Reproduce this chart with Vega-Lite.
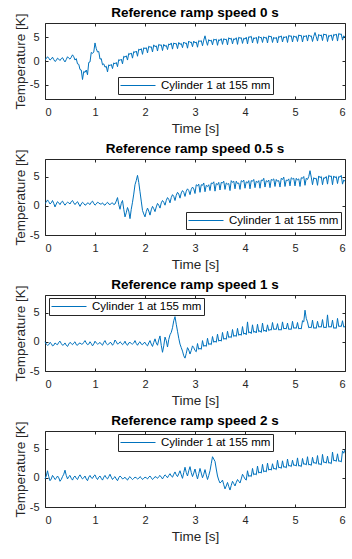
{
"$schema": "https://vega.github.io/schema/vega-lite/v6.json",
"background": "white",
"padding": {"left": 12, "top": 5, "right": 2, "bottom": 1},
"spacing": 6,
"resolve": {"scale": {"color": "independent"}, "legend": {"color": "independent"}},
"datasets": {
"s0": [
{"t":0.00,"v":0.3},{"t":0.05,"v":0.9},{"t":0.10,"v":0.2},{"t":0.15,"v":0.8},{"t":0.20,"v":-0.1},{"t":0.25,"v":0.6},{"t":0.30,"v":0.1},{"t":0.35,"v":0.7},{"t":0.40,"v":-0.2},{"t":0.45,"v":0.9},
{"t":0.50,"v":0.4},{"t":0.55,"v":1.3},{"t":0.60,"v":0.2},{"t":0.65,"v":-0.6},{"t":0.70,"v":-1.8},{"t":0.75,"v":-3.9},{"t":0.80,"v":-2.4},{"t":0.85,"v":-2.9},{"t":0.90,"v":-0.2},{"t":0.95,"v":1.6},
{"t":1.00,"v":3.8},{"t":1.05,"v":1.9},{"t":1.10,"v":0.4},{"t":1.15,"v":-0.8},{"t":1.20,"v":-1.3},{"t":1.25,"v":-2.3},{"t":1.30,"v":-1.0},{"t":1.35,"v":-1.6},{"t":1.40,"v":-0.6},{"t":1.45,"v":-1.2},
{"t":1.50,"v":0.1},{"t":1.55,"v":-0.6},{"t":1.60,"v":0.8},{"t":1.65,"v":0.2},{"t":1.70,"v":1.4},{"t":1.75,"v":0.6},{"t":1.80,"v":1.8},{"t":1.85,"v":1.0},{"t":1.90,"v":2.3},{"t":1.95,"v":1.4},
{"t":2.00,"v":2.6},{"t":2.05,"v":1.7},{"t":2.10,"v":2.9},{"t":2.15,"v":1.9},{"t":2.20,"v":3.0},{"t":2.25,"v":2.1},{"t":2.30,"v":3.3},{"t":2.35,"v":2.2},{"t":2.40,"v":3.1},{"t":2.45,"v":2.4},
{"t":2.50,"v":3.4},{"t":2.55,"v":2.5},{"t":2.60,"v":3.6},{"t":2.65,"v":2.6},{"t":2.70,"v":3.5},{"t":2.75,"v":2.8},{"t":2.80,"v":3.7},{"t":2.85,"v":2.7},{"t":2.90,"v":3.9},{"t":2.95,"v":3.0},
{"t":3.00,"v":3.8},{"t":3.05,"v":2.9},{"t":3.10,"v":4.1},{"t":3.15,"v":3.2},{"t":3.20,"v":5.3},{"t":3.25,"v":3.3},{"t":3.30,"v":4.2},{"t":3.35,"v":3.4},{"t":3.40,"v":4.4},{"t":3.45,"v":3.3},
{"t":3.50,"v":4.3},{"t":3.55,"v":3.5},{"t":3.60,"v":4.5},{"t":3.65,"v":3.4},{"t":3.70,"v":4.6},{"t":3.75,"v":3.6},{"t":3.80,"v":4.5},{"t":3.85,"v":3.5},{"t":3.90,"v":4.8},{"t":3.95,"v":3.7},
{"t":4.00,"v":4.6},{"t":4.05,"v":3.6},{"t":4.10,"v":5.0},{"t":4.15,"v":3.8},{"t":4.20,"v":4.7},{"t":4.25,"v":3.7},{"t":4.30,"v":4.9},{"t":4.35,"v":3.9},{"t":4.40,"v":4.8},{"t":4.45,"v":3.8},
{"t":4.50,"v":5.1},{"t":4.55,"v":3.9},{"t":4.60,"v":4.7},{"t":4.65,"v":3.8},{"t":4.70,"v":5.0},{"t":4.75,"v":4.0},{"t":4.80,"v":4.9},{"t":4.85,"v":3.9},{"t":4.90,"v":5.2},{"t":4.95,"v":4.0},
{"t":5.00,"v":5.0},{"t":5.05,"v":4.1},{"t":5.10,"v":5.3},{"t":5.15,"v":4.0},{"t":5.20,"v":5.1},{"t":5.25,"v":4.2},{"t":5.30,"v":5.2},{"t":5.35,"v":4.1},{"t":5.40,"v":6.0},{"t":5.45,"v":4.2},
{"t":5.50,"v":5.3},{"t":5.55,"v":4.3},{"t":5.60,"v":5.5},{"t":5.65,"v":4.1},{"t":5.70,"v":5.2},{"t":5.75,"v":4.3},{"t":5.80,"v":5.4},{"t":5.85,"v":4.2},{"t":5.90,"v":5.6},{"t":5.95,"v":4.4},{"t":6.00,"v":5.0},
{"t":0.025,"v":0.5},{"t":0.075,"v":0.6},{"t":0.125,"v":0.4},{"t":0.175,"v":0.3},{"t":0.225,"v":0.1},{"t":0.275,"v":0.4},{"t":0.325,"v":0.5},{"t":0.375,"v":0.2},{"t":0.425,"v":0.3},{"t":0.475,"v":0.6},
{"t":0.525,"v":0.8},{"t":0.575,"v":0.9},{"t":0.625,"v":0.5},{"t":0.675,"v":-0.7},{"t":0.725,"v":-1.9},{"t":0.775,"v":-2.2},{"t":0.825,"v":-1.9},{"t":0.875,"v":-0.3},{"t":0.925,"v":1.8},{"t":0.975,"v":1.9},
{"t":1.025,"v":2.6},{"t":1.075,"v":2.0},{"t":1.125,"v":0.5},{"t":1.175,"v":-0.6},{"t":1.225,"v":-1.1},{"t":1.275,"v":-0.8},{"t":1.325,"v":-0.7},{"t":1.375,"v":-0.4},{"t":1.425,"v":-0.3},{"t":1.475,"v":0.3},
{"t":1.525,"v":0.4},{"t":1.575,"v":1.0},{"t":1.625,"v":1.1},{"t":1.675,"v":1.6},{"t":1.725,"v":1.7},{"t":1.775,"v":2.0},{"t":1.825,"v":2.1},{"t":1.875,"v":2.5},{"t":1.925,"v":2.6},{"t":1.975,"v":2.8},
{"t":2.025,"v":2.8},{"t":2.075,"v":3.1},{"t":2.125,"v":3.0},{"t":2.175,"v":3.4},{"t":2.225,"v":3.2},{"t":2.275,"v":3.5},{"t":2.325,"v":3.4},{"t":2.375,"v":3.5},{"t":2.425,"v":3.3},{"t":2.475,"v":3.6},
{"t":2.525,"v":3.8},{"t":2.575,"v":3.8},{"t":2.625,"v":3.7},{"t":2.675,"v":3.9},{"t":2.725,"v":3.7},{"t":2.775,"v":4.0},{"t":2.825,"v":3.8},{"t":2.875,"v":4.2},{"t":2.925,"v":4.0},{"t":2.975,"v":4.2},
{"t":3.025,"v":4.0},{"t":3.075,"v":4.3},{"t":3.125,"v":4.3},{"t":3.175,"v":4.4},{"t":3.225,"v":4.2},{"t":3.275,"v":4.5},{"t":3.325,"v":4.4},{"t":3.375,"v":4.6},{"t":3.425,"v":4.6},{"t":3.475,"v":4.5},
{"t":3.525,"v":4.7},{"t":3.575,"v":4.7},{"t":3.625,"v":4.6},{"t":3.675,"v":4.9},{"t":3.725,"v":4.8},{"t":3.775,"v":4.7},{"t":3.825,"v":4.9},{"t":3.875,"v":5.0},{"t":3.925,"v":4.9},{"t":3.975,"v":4.8},
{"t":4.025,"v":5.0},{"t":4.075,"v":5.1},{"t":4.125,"v":5.2},{"t":4.175,"v":4.9},{"t":4.225,"v":5.0},{"t":4.275,"v":5.2},{"t":4.325,"v":5.0},{"t":4.375,"v":5.1},{"t":4.425,"v":5.0},{"t":4.475,"v":5.3},
{"t":4.525,"v":5.2},{"t":4.575,"v":5.0},{"t":4.625,"v":5.0},{"t":4.675,"v":5.2},{"t":4.725,"v":5.3},{"t":4.775,"v":5.1},{"t":4.825,"v":5.2},{"t":4.875,"v":5.4},{"t":4.925,"v":5.3},{"t":4.975,"v":5.3},
{"t":5.025,"v":5.2},{"t":5.075,"v":5.5},{"t":5.125,"v":5.4},{"t":5.175,"v":5.3},{"t":5.225,"v":5.4},{"t":5.275,"v":5.5},{"t":5.325,"v":5.3},{"t":5.375,"v":5.2},{"t":5.425,"v":5.1},{"t":5.475,"v":5.6},
{"t":5.525,"v":5.5},{"t":5.575,"v":5.7},{"t":5.625,"v":5.6},{"t":5.675,"v":5.4},{"t":5.725,"v":5.5},{"t":5.775,"v":5.6},{"t":5.825,"v":5.7},{"t":5.875,"v":5.8},{"t":5.925,"v":5.7},{"t":5.975,"v":5.3}
],
"s05": [
{"t":0.00,"v":0.4},{"t":0.05,"v":1.0},{"t":0.10,"v":0.3},{"t":0.15,"v":0.9},{"t":0.20,"v":-0.2},{"t":0.25,"v":0.7},{"t":0.30,"v":0.2},{"t":0.35,"v":0.8},{"t":0.40,"v":0.1},{"t":0.45,"v":0.6},
{"t":0.50,"v":0.3},{"t":0.55,"v":0.9},{"t":0.60,"v":0.2},{"t":0.65,"v":0.7},{"t":0.70,"v":-0.1},{"t":0.75,"v":0.6},{"t":0.80,"v":0.1},{"t":0.85,"v":0.5},{"t":0.90,"v":0.2},{"t":0.95,"v":0.8},
{"t":1.00,"v":0.1},{"t":1.05,"v":0.6},{"t":1.10,"v":0.3},{"t":1.15,"v":0.5},{"t":1.20,"v":0.1},{"t":1.25,"v":0.6},{"t":1.30,"v":0.2},{"t":1.35,"v":0.5},{"t":1.40,"v":0.3},{"t":1.45,"v":1.4},
{"t":1.50,"v":-0.6},{"t":1.55,"v":0.9},{"t":1.60,"v":-1.9},{"t":1.65,"v":-0.3},{"t":1.70,"v":-2.2},{"t":1.75,"v":0.6},{"t":1.80,"v":3.6},{"t":1.85,"v":5.2},{"t":1.90,"v":2.4},{"t":1.95,"v":-0.8},
{"t":2.00,"v":-1.9},{"t":2.05,"v":-0.4},{"t":2.10,"v":-1.6},{"t":2.15,"v":-0.1},{"t":2.20,"v":-1.0},{"t":2.25,"v":0.4},{"t":2.30,"v":-0.4},{"t":2.35,"v":0.9},{"t":2.40,"v":0.1},{"t":2.45,"v":1.4},
{"t":2.50,"v":0.5},{"t":2.55,"v":1.9},{"t":2.60,"v":0.9},{"t":2.65,"v":2.3},{"t":2.70,"v":1.3},{"t":2.75,"v":2.6},{"t":2.80,"v":1.6},{"t":2.85,"v":2.9},{"t":2.90,"v":1.9},{"t":2.95,"v":3.2},
{"t":3.00,"v":2.1},{"t":3.05,"v":3.4},{"t":3.10,"v":2.3},{"t":3.15,"v":3.5},{"t":3.20,"v":2.4},{"t":3.25,"v":3.3},{"t":3.30,"v":2.6},{"t":3.35,"v":3.8},{"t":3.40,"v":2.5},{"t":3.45,"v":3.6},
{"t":3.50,"v":2.7},{"t":3.55,"v":3.9},{"t":3.60,"v":2.8},{"t":3.65,"v":3.7},{"t":3.70,"v":2.6},{"t":3.75,"v":4.0},{"t":3.80,"v":2.9},{"t":3.85,"v":3.8},{"t":3.90,"v":2.8},{"t":3.95,"v":4.1},
{"t":4.00,"v":3.0},{"t":4.05,"v":3.9},{"t":4.10,"v":2.9},{"t":4.15,"v":4.2},{"t":4.20,"v":3.1},{"t":4.25,"v":4.0},{"t":4.30,"v":3.0},{"t":4.35,"v":4.3},{"t":4.40,"v":3.2},{"t":4.45,"v":4.1},
{"t":4.50,"v":3.1},{"t":4.55,"v":4.4},{"t":4.60,"v":3.3},{"t":4.65,"v":4.2},{"t":4.70,"v":3.2},{"t":4.75,"v":4.5},{"t":4.80,"v":3.3},{"t":4.85,"v":4.3},{"t":4.90,"v":3.4},{"t":4.95,"v":4.6},
{"t":5.00,"v":3.4},{"t":5.05,"v":4.4},{"t":5.10,"v":3.3},{"t":5.15,"v":4.7},{"t":5.20,"v":3.5},{"t":5.25,"v":4.5},{"t":5.30,"v":6.0},{"t":5.35,"v":3.6},{"t":5.40,"v":4.6},{"t":5.45,"v":3.5},
{"t":5.50,"v":4.8},{"t":5.55,"v":3.6},{"t":5.60,"v":4.7},{"t":5.65,"v":3.7},{"t":5.70,"v":5.0},{"t":5.75,"v":3.6},{"t":5.80,"v":4.8},{"t":5.85,"v":3.8},{"t":5.90,"v":4.9},{"t":5.95,"v":3.7},{"t":6.00,"v":4.2},
{"t":0.025,"v":0.6},{"t":0.075,"v":0.7},{"t":0.125,"v":0.5},{"t":0.175,"v":0.4},{"t":0.225,"v":0.3},{"t":0.275,"v":0.5},{"t":0.325,"v":0.6},{"t":0.375,"v":0.4},{"t":0.425,"v":0.4},{"t":0.475,"v":0.5},
{"t":0.525,"v":0.7},{"t":0.575,"v":0.5},{"t":0.625,"v":0.5},{"t":0.675,"v":0.3},{"t":0.725,"v":0.3},{"t":0.775,"v":0.4},{"t":0.825,"v":0.2},{"t":0.875,"v":0.4},{"t":0.925,"v":0.6},{"t":0.975,"v":0.4},
{"t":1.025,"v":0.3},{"t":1.075,"v":0.5},{"t":1.125,"v":0.3},{"t":1.175,"v":0.2},{"t":1.225,"v":0.4},{"t":1.275,"v":0.3},{"t":1.325,"v":0.4},{"t":1.375,"v":0.2},{"t":1.425,"v":0.8},{"t":1.475,"v":0.2},
{"t":1.525,"v":0.4},{"t":1.575,"v":-0.6},{"t":1.625,"v":-1.2},{"t":1.675,"v":-0.9},{"t":1.725,"v":-0.6},{"t":1.775,"v":2.0},{"t":1.825,"v":4.3},{"t":1.875,"v":4.0},{"t":1.925,"v":0.8},{"t":1.975,"v":-1.4},
{"t":2.025,"v":-1.0},{"t":2.075,"v":-0.9},{"t":2.125,"v":-0.7},{"t":2.175,"v":-0.5},{"t":2.225,"v":-0.2},{"t":2.275,"v":0.1},{"t":2.325,"v":0.5},{"t":2.375,"v":0.6},{"t":2.425,"v":0.9},{"t":2.475,"v":1.1},
{"t":2.525,"v":1.4},{"t":2.575,"v":1.6},{"t":2.625,"v":1.8},{"t":2.675,"v":2.0},{"t":2.725,"v":2.2},{"t":2.775,"v":2.3},{"t":2.825,"v":2.5},{"t":2.875,"v":2.6},{"t":2.925,"v":2.8},{"t":2.975,"v":2.9},
{"t":3.025,"v":3.6},{"t":3.075,"v":3.7},{"t":3.125,"v":3.6},{"t":3.175,"v":3.9},{"t":3.225,"v":3.5},{"t":3.275,"v":3.6},{"t":3.325,"v":3.9},{"t":3.375,"v":4.1},{"t":3.425,"v":3.8},{"t":3.475,"v":4.0},
{"t":3.525,"v":4.0},{"t":3.575,"v":4.2},{"t":3.625,"v":3.9},{"t":3.675,"v":3.8},{"t":3.725,"v":4.3},{"t":3.775,"v":4.2},{"t":3.825,"v":4.2},{"t":3.875,"v":3.9},{"t":3.925,"v":4.3},{"t":3.975,"v":4.4},
{"t":4.025,"v":4.1},{"t":4.075,"v":4.3},{"t":4.125,"v":4.3},{"t":4.175,"v":4.5},{"t":4.225,"v":4.2},{"t":4.275,"v":4.3},{"t":4.325,"v":4.4},{"t":4.375,"v":4.7},{"t":4.425,"v":4.3},{"t":4.475,"v":4.4},
{"t":4.525,"v":4.5},{"t":4.575,"v":4.6},{"t":4.625,"v":4.5},{"t":4.675,"v":4.3},{"t":4.725,"v":4.7},{"t":4.775,"v":4.9},{"t":4.825,"v":4.4},{"t":4.875,"v":4.6},{"t":4.925,"v":4.8},{"t":4.975,"v":4.7},
{"t":5.025,"v":4.7},{"t":5.075,"v":4.6},{"t":5.125,"v":4.8},{"t":5.175,"v":5.0},{"t":5.225,"v":4.7},{"t":5.275,"v":5.0},{"t":5.325,"v":4.9},{"t":5.375,"v":4.8},{"t":5.425,"v":4.7},{"t":5.475,"v":5.1},
{"t":5.525,"v":5.0},{"t":5.575,"v":4.8},{"t":5.625,"v":5.0},{"t":5.675,"v":5.2},{"t":5.725,"v":5.1},{"t":5.775,"v":5.1},{"t":5.825,"v":5.0},{"t":5.875,"v":5.0},{"t":5.925,"v":5.2},{"t":5.975,"v":4.4}
],
"s1": [
{"t":0.00,"v":0.0},{"t":0.05,"v":-0.6},{"t":0.10,"v":-0.1},{"t":0.15,"v":-0.7},{"t":0.20,"v":-0.2},{"t":0.25,"v":-0.5},{"t":0.30,"v":0.1},{"t":0.35,"v":-0.6},{"t":0.40,"v":-0.2},{"t":0.45,"v":-0.8},
{"t":0.50,"v":-0.1},{"t":0.55,"v":-0.5},{"t":0.60,"v":0.0},{"t":0.65,"v":-0.6},{"t":0.70,"v":-0.2},{"t":0.75,"v":-0.4},{"t":0.80,"v":0.2},{"t":0.85,"v":-0.5},{"t":0.90,"v":0.0},{"t":0.95,"v":-0.7},
{"t":1.00,"v":0.1},{"t":1.05,"v":-0.4},{"t":1.10,"v":-0.1},{"t":1.15,"v":-0.6},{"t":1.20,"v":0.2},{"t":1.25,"v":-0.5},{"t":1.30,"v":-0.1},{"t":1.35,"v":-0.6},{"t":1.40,"v":0.3},{"t":1.45,"v":-0.4},
{"t":1.50,"v":0.0},{"t":1.55,"v":-0.5},{"t":1.60,"v":0.1},{"t":1.65,"v":-0.6},{"t":1.70,"v":-0.1},{"t":1.75,"v":-0.4},{"t":1.80,"v":0.2},{"t":1.85,"v":-0.6},{"t":1.90,"v":0.0},{"t":1.95,"v":-0.5},
{"t":2.00,"v":-0.1},{"t":2.05,"v":-0.7},{"t":2.10,"v":0.2},{"t":2.15,"v":-0.8},{"t":2.20,"v":0.5},{"t":2.25,"v":-0.6},{"t":2.30,"v":1.0},{"t":2.35,"v":-1.8},{"t":2.40,"v":0.8},{"t":2.45,"v":-0.9},
{"t":2.50,"v":1.2},{"t":2.55,"v":2.4},{"t":2.60,"v":4.3},{"t":2.65,"v":1.8},{"t":2.70,"v":-0.4},{"t":2.75,"v":-1.6},{"t":2.80,"v":-2.8},{"t":2.85,"v":-1.0},{"t":2.90,"v":-2.1},{"t":2.95,"v":-0.7},
{"t":3.00,"v":-1.5},{"t":3.05,"v":-0.3},{"t":3.10,"v":-1.1},{"t":3.15,"v":0.2},{"t":3.20,"v":-0.6},{"t":3.25,"v":0.6},{"t":3.30,"v":-0.3},{"t":3.35,"v":0.9},{"t":3.40,"v":0.1},{"t":3.45,"v":1.3},
{"t":3.50,"v":0.3},{"t":3.55,"v":1.6},{"t":3.60,"v":0.6},{"t":3.65,"v":1.8},{"t":3.70,"v":0.9},{"t":3.75,"v":2.1},{"t":3.80,"v":1.1},{"t":3.85,"v":2.3},{"t":3.90,"v":1.3},{"t":3.95,"v":2.6},
{"t":4.00,"v":1.5},{"t":4.05,"v":3.4},{"t":4.10,"v":1.7},{"t":4.15,"v":2.9},{"t":4.20,"v":1.8},{"t":4.25,"v":3.0},{"t":4.30,"v":1.9},{"t":4.35,"v":3.2},{"t":4.40,"v":2.0},{"t":4.45,"v":2.9},
{"t":4.50,"v":2.1},{"t":4.55,"v":3.3},{"t":4.60,"v":2.2},{"t":4.65,"v":3.1},{"t":4.70,"v":2.1},{"t":4.75,"v":3.4},{"t":4.80,"v":2.3},{"t":4.85,"v":3.2},{"t":4.90,"v":2.2},{"t":4.95,"v":3.5},
{"t":5.00,"v":2.4},{"t":5.05,"v":3.3},{"t":5.10,"v":2.3},{"t":5.15,"v":3.6},{"t":5.20,"v":5.4},{"t":5.25,"v":3.4},{"t":5.30,"v":2.5},{"t":5.35,"v":3.7},{"t":5.40,"v":2.4},{"t":5.45,"v":3.5},
{"t":5.50,"v":2.6},{"t":5.55,"v":3.8},{"t":5.60,"v":2.5},{"t":5.65,"v":4.6},{"t":5.70,"v":2.6},{"t":5.75,"v":3.7},{"t":5.80,"v":2.4},{"t":5.85,"v":4.0},{"t":5.90,"v":2.7},{"t":5.95,"v":3.6},{"t":6.00,"v":2.6},
{"t":0.025,"v":-0.4},{"t":0.075,"v":-0.5},{"t":0.125,"v":-0.3},{"t":0.175,"v":-0.6},{"t":0.225,"v":-0.4},{"t":0.275,"v":-0.1},{"t":0.325,"v":-0.3},{"t":0.375,"v":-0.5},{"t":0.425,"v":-0.6},{"t":0.475,"v":-0.4},
{"t":0.525,"v":-0.3},{"t":0.575,"v":-0.2},{"t":0.625,"v":-0.5},{"t":0.675,"v":-0.3},{"t":0.725,"v":-0.4},{"t":0.775,"v":-0.1},{"t":0.825,"v":-0.2},{"t":0.875,"v":-0.4},{"t":0.925,"v":-0.3},{"t":0.975,"v":-0.4},
{"t":1.025,"v":-0.2},{"t":1.075,"v":-0.3},{"t":1.125,"v":-0.4},{"t":1.175,"v":-0.1},{"t":1.225,"v":-0.3},{"t":1.275,"v":-0.4},{"t":1.325,"v":-0.2},{"t":1.375,"v":-0.3},{"t":1.425,"v":0.0},{"t":1.475,"v":-0.3},
{"t":1.525,"v":-0.2},{"t":1.575,"v":-0.3},{"t":1.625,"v":-0.4},{"t":1.675,"v":-0.2},{"t":1.725,"v":-0.3},{"t":1.775,"v":-0.2},{"t":1.825,"v":-0.3},{"t":1.875,"v":-0.2},{"t":1.925,"v":-0.4},{"t":1.975,"v":-0.2},
{"t":2.025,"v":-0.5},{"t":2.075,"v":-0.2},{"t":2.125,"v":-0.4},{"t":2.175,"v":-0.1},{"t":2.225,"v":-0.2},{"t":2.275,"v":0.3},{"t":2.325,"v":-0.6},{"t":2.375,"v":-0.7},{"t":2.425,"v":0.2},{"t":2.475,"v":0.4},
{"t":2.525,"v":1.6},{"t":2.575,"v":3.6},{"t":2.625,"v":3.0},{"t":2.675,"v":0.6},{"t":2.725,"v":-1.0},{"t":2.775,"v":-2.4},{"t":2.825,"v":-2.0},{"t":2.875,"v":-1.4},{"t":2.925,"v":-1.5},{"t":2.975,"v":-1.0},
{"t":3.025,"v":-1.7},{"t":3.075,"v":-1.3},{"t":3.125,"v":-1.3},{"t":3.175,"v":-0.8},{"t":3.225,"v":-0.8},{"t":3.275,"v":-0.5},{"t":3.325,"v":-0.5},{"t":3.375,"v":-0.1},{"t":3.425,"v":-0.1},{"t":3.475,"v":0.1},
{"t":3.525,"v":0.1},{"t":3.575,"v":0.4},{"t":3.625,"v":0.4},{"t":3.675,"v":0.7},{"t":3.725,"v":0.7},{"t":3.775,"v":0.9},{"t":3.825,"v":0.9},{"t":3.875,"v":1.1},{"t":3.925,"v":1.1},{"t":3.975,"v":1.3},
{"t":4.025,"v":1.2},{"t":4.075,"v":1.5},{"t":4.125,"v":1.4},{"t":4.175,"v":1.6},{"t":4.225,"v":1.5},{"t":4.275,"v":1.7},{"t":4.325,"v":1.6},{"t":4.375,"v":1.8},{"t":4.425,"v":1.7},{"t":4.475,"v":1.9},
{"t":4.525,"v":2.0},{"t":4.575,"v":2.1},{"t":4.625,"v":2.1},{"t":4.675,"v":2.0},{"t":4.725,"v":2.0},{"t":4.775,"v":2.2},{"t":4.825,"v":2.2},{"t":4.875,"v":2.1},{"t":4.925,"v":2.1},{"t":4.975,"v":2.3},
{"t":5.025,"v":2.3},{"t":5.075,"v":2.2},{"t":5.125,"v":2.2},{"t":5.175,"v":3.4},{"t":5.225,"v":4.0},{"t":5.275,"v":2.4},{"t":5.325,"v":2.4},{"t":5.375,"v":2.3},{"t":5.425,"v":2.3},{"t":5.475,"v":2.5},
{"t":5.525,"v":2.5},{"t":5.575,"v":2.4},{"t":5.625,"v":2.4},{"t":5.675,"v":2.5},{"t":5.725,"v":2.5},{"t":5.775,"v":2.3},{"t":5.825,"v":2.3},{"t":5.875,"v":2.6},{"t":5.925,"v":2.6},{"t":5.975,"v":2.5}
],
"s2": [
{"t":0.00,"v":-0.2},{"t":0.05,"v":1.2},{"t":0.10,"v":-0.5},{"t":0.15,"v":0.4},{"t":0.20,"v":-0.3},{"t":0.25,"v":0.3},{"t":0.30,"v":-0.6},{"t":0.35,"v":0.2},{"t":0.40,"v":1.3},{"t":0.45,"v":-0.2},
{"t":0.50,"v":0.4},{"t":0.55,"v":-0.4},{"t":0.60,"v":0.3},{"t":0.65,"v":-0.3},{"t":0.70,"v":0.5},{"t":0.75,"v":-0.2},{"t":0.80,"v":0.3},{"t":0.85,"v":-0.5},{"t":0.90,"v":0.4},{"t":0.95,"v":-0.1},
{"t":1.00,"v":0.5},{"t":1.05,"v":-0.3},{"t":1.10,"v":0.3},{"t":1.15,"v":-0.4},{"t":1.20,"v":0.4},{"t":1.25,"v":-0.2},{"t":1.30,"v":0.6},{"t":1.35,"v":-0.3},{"t":1.40,"v":0.2},{"t":1.45,"v":-0.5},
{"t":1.50,"v":0.3},{"t":1.55,"v":-0.2},{"t":1.60,"v":0.1},{"t":1.65,"v":-0.4},{"t":1.70,"v":0.2},{"t":1.75,"v":-0.3},{"t":1.80,"v":0.1},{"t":1.85,"v":-0.2},{"t":1.90,"v":0.2},{"t":1.95,"v":-0.3},
{"t":2.00,"v":0.1},{"t":2.05,"v":-0.2},{"t":2.10,"v":0.3},{"t":2.15,"v":-0.3},{"t":2.20,"v":0.2},{"t":2.25,"v":-0.1},{"t":2.30,"v":0.4},{"t":2.35,"v":-0.2},{"t":2.40,"v":0.5},{"t":2.45,"v":0.0},
{"t":2.50,"v":0.7},{"t":2.55,"v":0.1},{"t":2.60,"v":1.0},{"t":2.65,"v":0.2},{"t":2.70,"v":1.2},{"t":2.75,"v":-0.1},{"t":2.80,"v":1.8},{"t":2.85,"v":0.3},{"t":2.90,"v":1.9},{"t":2.95,"v":0.2},
{"t":3.00,"v":1.5},{"t":3.05,"v":-0.2},{"t":3.10,"v":1.6},{"t":3.15,"v":0.0},{"t":3.20,"v":1.4},{"t":3.25,"v":-0.3},{"t":3.30,"v":1.2},{"t":3.35,"v":3.6},{"t":3.40,"v":2.8},{"t":3.45,"v":0.3},
{"t":3.50,"v":-0.9},{"t":3.55,"v":-0.4},{"t":3.60,"v":-1.9},{"t":3.65,"v":-0.8},{"t":3.70,"v":-2.1},{"t":3.75,"v":-0.6},{"t":3.80,"v":-1.4},{"t":3.85,"v":-0.3},{"t":3.90,"v":-0.9},{"t":3.95,"v":0.6},
{"t":4.00,"v":-0.2},{"t":4.05,"v":1.2},{"t":4.10,"v":0.4},{"t":4.15,"v":1.6},{"t":4.20,"v":0.7},{"t":4.25,"v":2.0},{"t":4.30,"v":1.0},{"t":4.35,"v":2.3},{"t":4.40,"v":1.2},{"t":4.45,"v":2.5},
{"t":4.50,"v":1.5},{"t":4.55,"v":2.4},{"t":4.60,"v":1.6},{"t":4.65,"v":3.0},{"t":4.70,"v":1.8},{"t":4.75,"v":2.9},{"t":4.80,"v":1.9},{"t":4.85,"v":3.2},{"t":4.90,"v":2.1},{"t":4.95,"v":3.0},
{"t":5.00,"v":2.2},{"t":5.05,"v":3.4},{"t":5.10,"v":2.1},{"t":5.15,"v":3.3},{"t":5.20,"v":2.4},{"t":5.25,"v":3.6},{"t":5.30,"v":2.3},{"t":5.35,"v":3.5},{"t":5.40,"v":2.6},{"t":5.45,"v":3.8},
{"t":5.50,"v":2.4},{"t":5.55,"v":4.0},{"t":5.60,"v":2.7},{"t":5.65,"v":3.7},{"t":5.70,"v":2.6},{"t":5.75,"v":4.4},{"t":5.80,"v":3.0},{"t":5.85,"v":4.1},{"t":5.90,"v":2.9},{"t":5.95,"v":4.6},{"t":6.00,"v":4.8},
{"t":0.025,"v":0.3},{"t":0.075,"v":0.2},{"t":0.125,"v":-0.2},{"t":0.175,"v":0.1},{"t":0.225,"v":-0.1},{"t":0.275,"v":0.0},{"t":0.325,"v":-0.3},{"t":0.375,"v":0.6},{"t":0.425,"v":0.4},{"t":0.475,"v":0.2},
{"t":0.525,"v":-0.1},{"t":0.575,"v":0.1},{"t":0.625,"v":-0.1},{"t":0.675,"v":0.2},{"t":0.725,"v":0.1},{"t":0.775,"v":0.0},{"t":0.825,"v":-0.2},{"t":0.875,"v":0.1},{"t":0.925,"v":0.0},{"t":0.975,"v":0.3},
{"t":1.025,"v":0.0},{"t":1.075,"v":0.1},{"t":1.125,"v":-0.1},{"t":1.175,"v":0.1},{"t":1.225,"v":0.0},{"t":1.275,"v":0.2},{"t":1.325,"v":0.1},{"t":1.375,"v":0.0},{"t":1.425,"v":-0.2},{"t":1.475,"v":0.0},
{"t":1.525,"v":0.1},{"t":1.575,"v":-0.1},{"t":1.625,"v":-0.2},{"t":1.675,"v":0.0},{"t":1.725,"v":-0.1},{"t":1.775,"v":-0.1},{"t":1.825,"v":0.0},{"t":1.875,"v":-0.1},{"t":1.925,"v":0.0},{"t":1.975,"v":-0.1},
{"t":2.025,"v":0.0},{"t":2.075,"v":0.1},{"t":2.125,"v":0.0},{"t":2.175,"v":-0.1},{"t":2.225,"v":0.1},{"t":2.275,"v":0.2},{"t":2.325,"v":0.1},{"t":2.375,"v":0.2},{"t":2.425,"v":0.3},{"t":2.475,"v":0.4},
{"t":2.525,"v":0.3},{"t":2.575,"v":0.6},{"t":2.625,"v":0.5},{"t":2.675,"v":0.7},{"t":2.725,"v":0.5},{"t":2.775,"v":0.9},{"t":2.825,"v":0.9},{"t":2.875,"v":1.2},{"t":2.925,"v":0.9},{"t":2.975,"v":0.8},
{"t":3.025,"v":0.6},{"t":3.075,"v":0.7},{"t":3.125,"v":0.8},{"t":3.175,"v":0.6},{"t":3.225,"v":0.5},{"t":3.275,"v":0.4},{"t":3.325,"v":2.4},{"t":3.375,"v":3.2},{"t":3.425,"v":1.5},{"t":3.475,"v":-0.4},
{"t":3.525,"v":-0.7},{"t":3.575,"v":-1.2},{"t":3.625,"v":-1.4},{"t":3.675,"v":-1.5},{"t":3.725,"v":-1.3},{"t":3.775,"v":-1.0},{"t":3.825,"v":-0.8},{"t":3.875,"v":-0.6},{"t":3.925,"v":-0.2},{"t":3.975,"v":0.2},
{"t":4.025,"v":-0.4},{"t":4.075,"v":0.2},{"t":4.125,"v":0.2},{"t":4.175,"v":0.5},{"t":4.225,"v":0.5},{"t":4.275,"v":0.8},{"t":4.325,"v":0.8},{"t":4.375,"v":1.0},{"t":4.425,"v":1.0},{"t":4.475,"v":1.3},
{"t":4.525,"v":1.3},{"t":4.575,"v":1.5},{"t":4.625,"v":1.4},{"t":4.675,"v":1.7},{"t":4.725,"v":1.6},{"t":4.775,"v":1.8},{"t":4.825,"v":1.7},{"t":4.875,"v":2.0},{"t":4.925,"v":1.9},{"t":4.975,"v":2.1},
{"t":5.025,"v":2.0},{"t":5.075,"v":2.0},{"t":5.125,"v":1.9},{"t":5.175,"v":2.3},{"t":5.225,"v":2.2},{"t":5.275,"v":2.2},{"t":5.325,"v":2.1},{"t":5.375,"v":2.5},{"t":5.425,"v":2.4},{"t":5.475,"v":2.3},
{"t":5.525,"v":2.2},{"t":5.575,"v":2.6},{"t":5.625,"v":2.5},{"t":5.675,"v":2.5},{"t":5.725,"v":2.4},{"t":5.775,"v":2.9},{"t":5.825,"v":2.8},{"t":5.875,"v":2.8},{"t":5.925,"v":2.7},{"t":5.975,"v":4.2}
]
},
"vconcat": [
{
"title": "Reference ramp speed 0 s",
"width": 300, "height": 76,
"data": {"name": "s0"},
"layer": [
{"mark": {"type": "line", "strokeWidth": 1},
 "encoding": {
  "x": {"field": "t", "type": "quantitative", "scale": {"domain": [0, 6], "nice": false}, "axis": {"values": [0,1,2,3,4,5,6], "title": "Time [s]"}},
  "y": {"field": "v", "type": "quantitative", "scale": {"domain": [-8, 8], "nice": false}, "axis": {"values": [-5,0,5], "title": "Temperature [K]", "labelExpr": "replace(datum.label, '−', '-')"}},
  "color": {"datum": "Cylinder 1 at 155 mm", "scale": {"range": ["#0072BD"]}, "legend": {"orient": "none", "legendX": 73, "legendY": 54}}
 }},
{"mark": {"type": "line", "opacity": 0},
 "encoding": {
  "x": {"field": "t", "type": "quantitative", "axis": {"orient": "top", "values": [0,1,2,3,4,5,6], "labels": false, "title": null, "minExtent": 0, "maxExtent": 0}},
  "y": {"field": "v", "type": "quantitative", "axis": {"orient": "right", "values": [-5,0,5], "labels": false, "title": null, "minExtent": 0, "maxExtent": 0}}
 }}
],
"resolve": {"axis": {"x": "independent", "y": "independent"}}
},
{
"title": "Reference ramp speed 0.5 s",
"width": 300, "height": 76,
"data": {"name": "s05"},
"layer": [
{"mark": {"type": "line", "strokeWidth": 1},
 "encoding": {
  "x": {"field": "t", "type": "quantitative", "scale": {"domain": [0, 6], "nice": false}, "axis": {"values": [0,1,2,3,4,5,6], "title": "Time [s]"}},
  "y": {"field": "v", "type": "quantitative", "scale": {"domain": [-5, 8], "nice": false}, "axis": {"values": [-5,0,5], "title": "Temperature [K]", "labelExpr": "replace(datum.label, '−', '-')"}},
  "color": {"datum": "Cylinder 1 at 155 mm", "scale": {"range": ["#0072BD"]}, "legend": {"orient": "none", "legendX": 141, "legendY": 53}}
 }},
{"mark": {"type": "line", "opacity": 0},
 "encoding": {
  "x": {"field": "t", "type": "quantitative", "axis": {"orient": "top", "values": [0,1,2,3,4,5,6], "labels": false, "title": null, "minExtent": 0, "maxExtent": 0}},
  "y": {"field": "v", "type": "quantitative", "axis": {"orient": "right", "values": [-5,0,5], "labels": false, "title": null, "minExtent": 0, "maxExtent": 0}}
 }}
],
"resolve": {"axis": {"x": "independent", "y": "independent"}}
},
{
"title": "Reference ramp speed 1 s",
"width": 300, "height": 76,
"data": {"name": "s1"},
"layer": [
{"mark": {"type": "line", "strokeWidth": 1},
 "encoding": {
  "x": {"field": "t", "type": "quantitative", "scale": {"domain": [0, 6], "nice": false}, "axis": {"values": [0,1,2,3,4,5,6], "title": "Time [s]"}},
  "y": {"field": "v", "type": "quantitative", "scale": {"domain": [-5, 8], "nice": false}, "axis": {"values": [-5,0,5], "title": "Temperature [K]", "labelExpr": "replace(datum.label, '−', '-')"}},
  "color": {"datum": "Cylinder 1 at 155 mm", "scale": {"range": ["#0072BD"]}, "legend": {"orient": "none", "legendX": 4, "legendY": 3}}
 }},
{"mark": {"type": "line", "opacity": 0},
 "encoding": {
  "x": {"field": "t", "type": "quantitative", "axis": {"orient": "top", "values": [0,1,2,3,4,5,6], "labels": false, "title": null, "minExtent": 0, "maxExtent": 0}},
  "y": {"field": "v", "type": "quantitative", "axis": {"orient": "right", "values": [-5,0,5], "labels": false, "title": null, "minExtent": 0, "maxExtent": 0}}
 }}
],
"resolve": {"axis": {"x": "independent", "y": "independent"}}
},
{
"title": "Reference ramp speed 2 s",
"width": 300, "height": 76,
"data": {"name": "s2"},
"layer": [
{"mark": {"type": "line", "strokeWidth": 1},
 "encoding": {
  "x": {"field": "t", "type": "quantitative", "scale": {"domain": [0, 6], "nice": false}, "axis": {"values": [0,1,2,3,4,5,6], "title": "Time [s]"}},
  "y": {"field": "v", "type": "quantitative", "scale": {"domain": [-5, 8], "nice": false}, "axis": {"values": [-5,0,5], "title": "Temperature [K]", "labelExpr": "replace(datum.label, '−', '-')"}},
  "color": {"datum": "Cylinder 1 at 155 mm", "scale": {"range": ["#0072BD"]}, "legend": {"orient": "none", "legendX": 73, "legendY": 3}}
 }},
{"mark": {"type": "line", "opacity": 0},
 "encoding": {
  "x": {"field": "t", "type": "quantitative", "axis": {"orient": "top", "values": [0,1,2,3,4,5,6], "labels": false, "title": null, "minExtent": 0, "maxExtent": 0}},
  "y": {"field": "v", "type": "quantitative", "axis": {"orient": "right", "values": [-5,0,5], "labels": false, "title": null, "minExtent": 0, "maxExtent": 0}}
 }}
],
"resolve": {"axis": {"x": "independent", "y": "independent"}}
}
],
"config": {
"font": "Liberation Sans",
"view": {"stroke": "#262626", "strokeWidth": 1},
"axis": {"domain": false, "grid": false, "tickSize": -3, "tickColor": "#262626", "labelColor": "#262626", "labelFontSize": 11, "titleColor": "#262626", "titleFontSize": 13.5, "titleFontWeight": "normal"},
"axisX": {"labelPadding": 10, "titlePadding": 4},
"axisY": {"labelPadding": 9, "titlePadding": 2},
"title": {"fontSize": 13.5, "fontWeight": "bold", "color": "#000000", "frame": "group", "anchor": "middle", "offset": -7},
"legend": {"title": null, "strokeColor": "#262626", "fillColor": "white", "padding": 2, "clipHeight": 13, "symbolType": "stroke", "symbolSize": 1225, "symbolStrokeWidth": 1, "labelFontSize": 11.5, "labelOffset": 5, "labelColor": "#000000"}
}
}
